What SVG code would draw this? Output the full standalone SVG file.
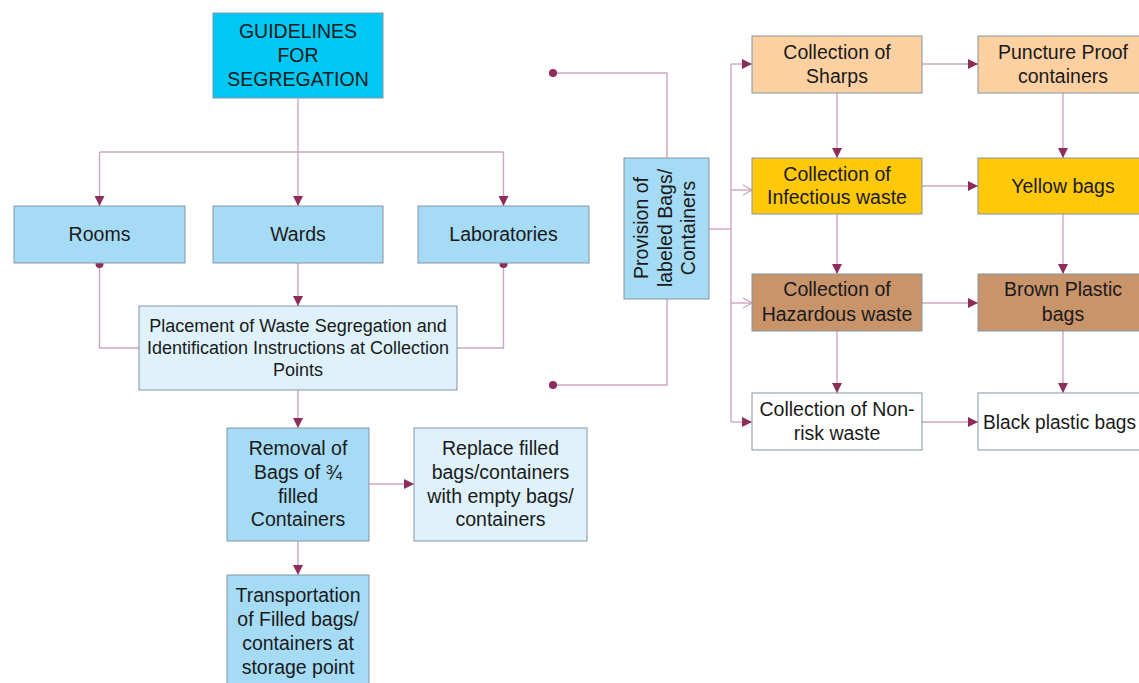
<svg xmlns="http://www.w3.org/2000/svg" width="1139" height="683" viewBox="0 0 1139 683">
<style>
.box{stroke:#8394a4;stroke-width:1}
.t{font-family:"Liberation Sans",Arial,sans-serif;font-size:19.5px;fill:#1a1a1a;text-anchor:middle}
.s{font-size:18px}
.ln{fill:none;stroke:#cca6be;stroke-width:1.4}
.dot{fill:#8e2c5c}
</style>
<defs>
<marker id="ah" markerUnits="userSpaceOnUse" markerWidth="10" markerHeight="10" refX="10" refY="5" orient="auto" viewBox="0 0 10 10">
<path d="M0,0 L10,5 L0,10 z" fill="#8e2c5c"/>
</marker>
<marker id="oh" markerUnits="userSpaceOnUse" markerWidth="10" markerHeight="12" refX="10" refY="6" orient="auto" viewBox="0 0 10 12">
<path d="M1,1 L10,6 L1,11" fill="none" stroke="#cca6be" stroke-width="1.3"/>
</marker>
</defs>
<rect width="1139" height="683" fill="#ffffff"/>

<g id="connectors">
<path class="ln" d="M298,99 V206" marker-end="url(#ah)"/>
<path class="ln" d="M99.5,152 H503.5"/>
<path class="ln" d="M99.5,152 V206" marker-end="url(#ah)"/>
<path class="ln" d="M503.5,152 V206" marker-end="url(#ah)"/>
<path class="ln" d="M99.5,263 V348 H139"/>
<path class="ln" d="M503.5,263 V348 H457"/>
<circle class="dot" cx="99.5" cy="264" r="4"/>
<circle class="dot" cx="503.5" cy="264" r="4"/>
<path class="ln" d="M298,263 V306" marker-end="url(#ah)"/>
<path class="ln" d="M298,390 V428" marker-end="url(#ah)"/>
<path class="ln" d="M298,541 V575" marker-end="url(#ah)"/>
<path class="ln" d="M369,484 H414" marker-end="url(#ah)"/>
<path class="ln" d="M553,73 H667 V158"/>
<path class="ln" d="M553,385 H667 V299"/>
<circle class="dot" cx="553" cy="73" r="4"/>
<circle class="dot" cx="553" cy="385" r="4"/>
<path class="ln" d="M709,229 H731"/>
<path class="ln" d="M731,64 V422"/>
<path class="ln" d="M731,64 H752" marker-end="url(#ah)"/>
<path class="ln" d="M731,190 H752" marker-end="url(#oh)"/>
<path class="ln" d="M731,303 H752" marker-end="url(#oh)"/>
<path class="ln" d="M731,422 H752" marker-end="url(#ah)"/>
<path class="ln" d="M837,93 V158" marker-end="url(#ah)"/>
<path class="ln" d="M837,214 V274" marker-end="url(#ah)"/>
<path class="ln" d="M837,331 V393" marker-end="url(#ah)"/>
<path class="ln" d="M922,64 H978" marker-end="url(#ah)"/>
<path class="ln" d="M922,186 H978" marker-end="url(#ah)"/>
<path class="ln" d="M922,303 H978" marker-end="url(#ah)"/>
<path class="ln" d="M922,422 H978" marker-end="url(#ah)"/>
<path class="ln" d="M1063,93 V158" marker-end="url(#ah)"/>
<path class="ln" d="M1063,214 V274" marker-end="url(#ah)"/>
<path class="ln" d="M1063,331 V393" marker-end="url(#ah)"/>
</g>

<g id="guidelines">
<rect class="box" x="213" y="13" width="170" height="85" fill="#00c8f4"/>
<text class="t" x="298" y="38">GUIDELINES</text>
<text class="t" x="298" y="62">FOR</text>
<text class="t" x="298" y="86">SEGREGATION</text>
</g>
<g id="rooms">
<rect class="box" x="14" y="206" width="171" height="57" fill="#a6dbf5"/>
<text class="t" x="99.5" y="241">Rooms</text>
</g>
<g id="wards">
<rect class="box" x="213" y="206" width="170" height="57" fill="#a6dbf5"/>
<text class="t" x="298" y="241">Wards</text>
</g>
<g id="laboratories">
<rect class="box" x="418" y="206" width="171" height="57" fill="#a6dbf5"/>
<text class="t" x="503.5" y="241">Laboratories</text>
</g>
<g id="placement">
<rect class="box" x="139" y="306" width="318" height="84" fill="#dff2fc"/>
<text class="t s" x="298" y="332">Placement of Waste Segregation and</text>
<text class="t s" x="298" y="354">Identification Instructions at Collection</text>
<text class="t s" x="298" y="375.5">Points</text>
</g>
<g id="removal">
<rect class="box" x="227" y="428" width="142" height="113" fill="#a6dbf5"/>
<text class="t" x="298" y="454.5">Removal of</text>
<text class="t" x="298" y="479">Bags of ¾</text>
<text class="t" x="298" y="502.5">filled</text>
<text class="t" x="298" y="526">Containers</text>
</g>
<g id="replace">
<rect class="box" x="414" y="428" width="173" height="113" fill="#dff2fc"/>
<text class="t" x="500.5" y="454.5">Replace filled</text>
<text class="t" x="500.5" y="479">bags/containers</text>
<text class="t" x="500.5" y="502.5">with empty bags/</text>
<text class="t" x="500.5" y="526">containers</text>
</g>
<g id="transportation">
<rect class="box" x="227" y="575" width="142" height="120" fill="#a6dbf5"/>
<text class="t" x="298" y="602">Transportation</text>
<text class="t" x="298" y="626">of Filled bags/</text>
<text class="t" x="298" y="650">containers at</text>
<text class="t" x="298" y="673.5">storage point</text>
</g>
<g id="provision">
<rect class="box" x="624" y="158" width="85" height="141" fill="#a6dbf5"/>
<text class="t" transform="translate(648,228) rotate(-90)">Provision of</text>
<text class="t" transform="translate(671.5,228) rotate(-90)">labeled Bags/</text>
<text class="t" transform="translate(695,228) rotate(-90)">Containers</text>
</g>
<g id="sharps">
<rect class="box" x="752" y="36" width="170" height="57" fill="#fdd0a2"/>
<text class="t" x="837" y="58.5">Collection of</text>
<text class="t" x="837" y="82.5">Sharps</text>
</g>
<g id="infectious">
<rect class="box" x="752" y="158" width="170" height="56" fill="#ffc90a"/>
<text class="t" x="837" y="181">Collection of</text>
<text class="t" x="837" y="203.5">Infectious waste</text>
</g>
<g id="hazardous">
<rect class="box" x="752" y="274" width="170" height="57" fill="#c9946a"/>
<text class="t" x="837" y="296">Collection of</text>
<text class="t" x="837" y="320.5">Hazardous waste</text>
</g>
<g id="nonrisk">
<rect class="box" x="752" y="393" width="170" height="57" fill="#ffffff"/>
<text class="t" x="837" y="416">Collection of Non-</text>
<text class="t" x="837" y="439.5">risk waste</text>
</g>
<g id="puncture">
<rect class="box" x="978" y="36" width="172" height="57" fill="#fdd0a2"/>
<text class="t" x="1063" y="58.5">Puncture Proof</text>
<text class="t" x="1063" y="82.5">containers</text>
</g>
<g id="yellow">
<rect class="box" x="978" y="158" width="172" height="56" fill="#ffc90a"/>
<text class="t" x="1063" y="193">Yellow bags</text>
</g>
<g id="brown">
<rect class="box" x="978" y="274" width="172" height="57" fill="#c9946a"/>
<text class="t" x="1063" y="296">Brown Plastic</text>
<text class="t" x="1063" y="320.5">bags</text>
</g>
<g id="black">
<rect class="box" x="978" y="393" width="172" height="57" fill="#ffffff"/>
<text class="t" x="983" y="428.5" style="text-anchor:start" textLength="153" lengthAdjust="spacingAndGlyphs">Black plastic bags</text>
</g>
</svg>
